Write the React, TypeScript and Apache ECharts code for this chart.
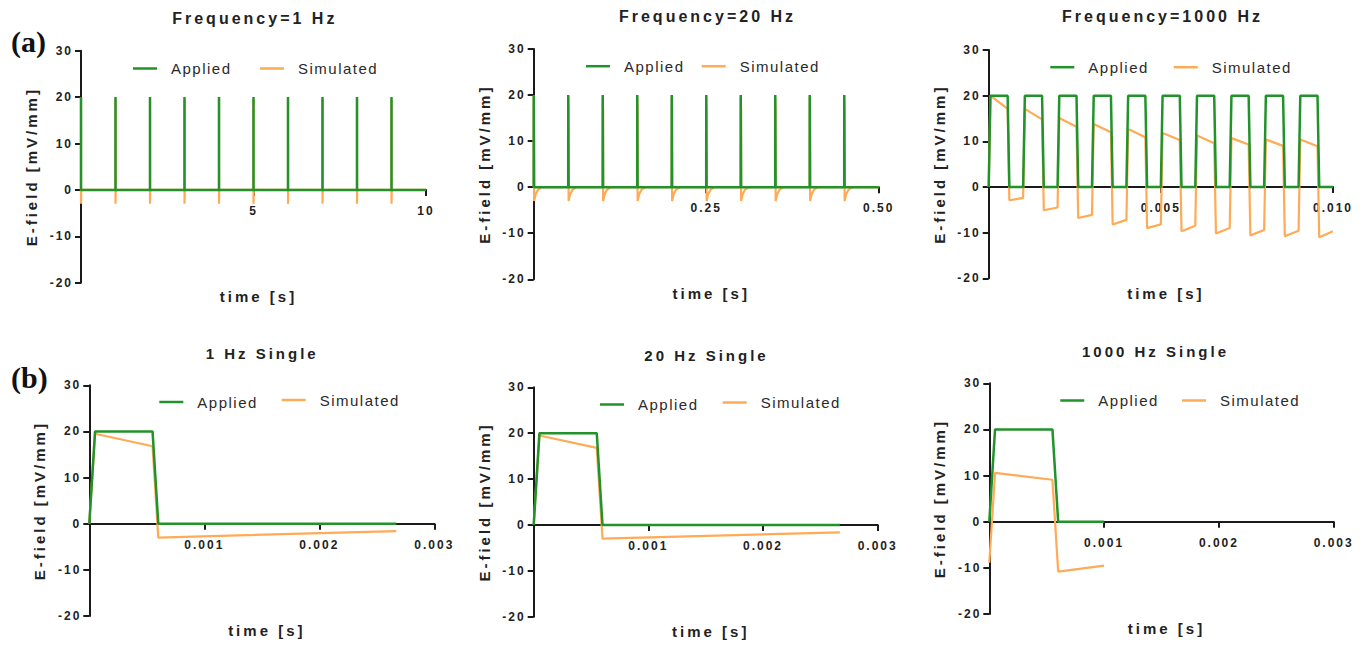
import React, { useEffect, useRef } from "react";
import * as echarts from "echarts";

// ---------------- data ----------------
const GREEN = "#22922a";
const ORANGE = "#ffaa55";

// pulse onset times [s]
const onsets1Hz = [0, 1, 2, 3, 4, 5, 6, 7, 8, 9];
const onsets20Hz = [0, 0.05, 0.1, 0.15, 0.2, 0.25, 0.3, 0.35, 0.4, 0.45];
const onsets1000Hz = [0, 0.001, 0.002, 0.003, 0.004, 0.005, 0.006, 0.007, 0.008, 0.009];

// one applied pulse: time offsets [s] and field [mV/mm]
const pulseT = [0, 0.00005, 0.00055, 0.0006];
const appliedV = [0, 20, 20, 0];
// simulated response to an isolated pulse (1 Hz / 20 Hz trains)
const simPulseV = [0, 19.5, 16.8, -3.0];
const simTailT = [0.0027, 0.006, 0.012];
const simTailV = [-1.6, -0.6, 0];

// 1000 Hz train: simulated values, pulse by pulse
const sim1000Start = [20, 17.1, 15.1, 13.8, 12.7, 11.8, 11.3, 10.7, 10.4, 10.4];
const sim1000End = [17.1, 14.8, 13.2, 12.0, 10.9, 10.3, 9.6, 9.3, 9.0, 8.9];
const sim1000TroughStart = [-2.9, -5.1, -6.8, -8.2, -9.0, -9.7, -10.2, -10.6, -10.8, -11.0];
const sim1000TroughEnd = [-2.4, -4.5, -6.1, -7.2, -8.2, -8.5, -9.0, -9.4, -9.6, -9.7];

// single pulses (row b)
const singleT = [0, 0.00005, 0.00055, 0.0006, 0.00267];
const singleApplied = [0, 20, 20, 0, 0];
const singleSim = [0, 19.5, 16.8, -3.0, -1.6];
const single1000T = [0, 0.00005, 0.00055, 0.0006, 0.001];
const single1000Applied = [0, 20, 20, 0, 0];
const single1000Sim = [-8.9, 10.6, 9.1, -10.8, -9.5];

// axes
const titles = ["Frequency=1 Hz", "Frequency=20 Hz", "Frequency=1000 Hz", "1 Hz Single", "20 Hz Single", "1000 Hz Single"];
const xMaxes = [10, 0.5, 0.01, 0.003, 0.003, 0.003];
const xIntervals = [5, 0.25, 0.005, 0.001, 0.001, 0.001];
const xDecimals = [0, 2, 3, 3, 3, 3];
const yMin = -20;
const yMax = 30;
const yInterval = 10;

// ---------------- series builders ----------------
type Pt = [number, number];
function trainApplied(onsets: number[], end: number): Pt[] {
  const pts: Pt[] = [];
  onsets.forEach((t0) => pulseT.forEach((dt, k) => pts.push([t0 + dt, appliedV[k]])));
  pts.push([end, 0]);
  return pts;
}
function trainSimulated(onsets: number[], end: number): Pt[] {
  const pts: Pt[] = [];
  onsets.forEach((t0) => {
    pulseT.forEach((dt, k) => pts.push([t0 + dt, simPulseV[k]]));
    simTailT.forEach((dt, k) => pts.push([t0 + dt, simTailV[k]]));
  });
  pts.push([end, 0]);
  return pts;
}
function train1000Simulated(): Pt[] {
  const pts: Pt[] = [[0, 0]];
  onsets1000Hz.forEach((t0, i) => {
    pts.push([t0 + 0.00005, sim1000Start[i]]);
    pts.push([t0 + 0.00055, sim1000End[i]]);
    pts.push([t0 + 0.0006, sim1000TroughStart[i]]);
    pts.push([t0 + 0.001, sim1000TroughEnd[i]]);
  });
  return pts;
}
const zip = (t: number[], v: number[]): Pt[] => t.map((x, i) => [x, v[i]]);

const appliedData: Pt[][] = [
  trainApplied(onsets1Hz, 10),
  trainApplied(onsets20Hz, 0.5),
  trainApplied(onsets1000Hz, 0.01),
  zip(singleT, singleApplied),
  zip(singleT, singleApplied),
  zip(single1000T, single1000Applied),
];
const simulatedData: Pt[][] = [
  trainSimulated(onsets1Hz, 10),
  trainSimulated(onsets20Hz, 0.5),
  train1000Simulated(),
  zip(singleT, singleSim),
  zip(singleT, singleSim),
  zip(single1000T, single1000Sim),
];

// ---------------- layout ----------------
const grids = [
  { left: 81, top: 50.7, width: 345, height: 232 },
  { left: 533.7, top: 49, width: 345, height: 230.3 },
  { left: 988.7, top: 50, width: 344.3, height: 228.3 },
  { left: 89.3, top: 385.3, width: 345, height: 230.7 },
  { left: 533.7, top: 387.3, width: 344, height: 229.4 },
  { left: 989.3, top: 383.3, width: 344.4, height: 230.7 },
];
const titlePos = [
  [254.8, 18.3], [707.5, 16], [1162.5, 16.7], [262.2, 353.3], [706.5, 355], [1155.5, 351.7],
];
const legendPos = [
  { ax: 133, ay: 68, sx: 260, sy: 68 },
  { ax: 586, ay: 65.7, sx: 701.7, sy: 65.7 },
  { ax: 1050.3, ay: 66.7, sx: 1173.7, sy: 66.7 },
  { ax: 159.3, ay: 401.5, sx: 281.7, sy: 399.5 },
  { ax: 600, ay: 404, sx: 722.7, sy: 402 },
  { ax: 1060.3, ay: 400, sx: 1182, sy: 400 },
];

const TFONT = "'Liberation Sans', Arial, zzT";
const LFONT = "'Liberation Sans', Arial, zzL";
const KFONT = "'Liberation Sans', Arial, zzK";
const INK = "#1a1a1a";

const css = `
body{margin:0}
text[style*="zzT"]{letter-spacing:3px}
text[style*="zzL"]{letter-spacing:1.5px}
text[style*="zzK"]{letter-spacing:2px}
`;

export default function App() {
  const ref = useRef<HTMLDivElement>(null);
  useEffect(() => {
    if (!ref.current) return;
    const chart = echarts.init(ref.current, undefined, { renderer: "svg" });
    const axisLineStyle = { color: INK, width: 2 };
    const legendText = { fontSize: 15, fontFamily: LFONT, color: "#2a2a2a", padding: [0, 0, 0, 9] };
    const option: any = {
      animation: false,
      backgroundColor: "#ffffff",
      grid: grids.map((g) => ({ ...g, containLabel: false })),
      xAxis: grids.map((g, i) => ({
        type: "value",
        gridIndex: i,
        position: "bottom",
        // x axis drawn through y = 0
        offset: -g.height * ((0 - yMin) / (yMax - yMin)),
        min: 0,
        max: xMaxes[i],
        interval: xIntervals[i],
        axisLine: { show: true, onZero: false, lineStyle: axisLineStyle },
        axisTick: { show: true, length: 6, lineStyle: axisLineStyle },
        splitLine: { show: false },
        axisLabel: {
          margin: 15,
          fontSize: 12,
          fontWeight: "bold",
          fontFamily: KFONT,
          color: "#222",
          showMinLabel: false,
          formatter: (v: number) => (v === 0 ? "" : v.toFixed(xDecimals[i])),
        },
        name: "time [s]",
        nameLocation: "middle",
        nameGap: 99,
        nameTextStyle: { fontSize: 15, fontWeight: "bold", fontFamily: TFONT, color: "#222", padding: [0, 0, 0, 10] },
      })),
      yAxis: grids.map((_, i) => ({
        type: "value",
        gridIndex: i,
        min: yMin,
        max: yMax,
        interval: yInterval,
        axisLine: { show: true, onZero: false, lineStyle: axisLineStyle },
        axisTick: { show: true, length: 6, lineStyle: axisLineStyle },
        splitLine: { show: false },
        axisLabel: { margin: 8, fontSize: 12, fontWeight: "bold", fontFamily: KFONT, color: "#222" },
        name: "E-field [mV/mm]",
        nameLocation: "middle",
        nameGap: 42,
        nameTextStyle: { fontSize: 15, fontWeight: "bold", fontFamily: TFONT, color: "#222" },
      })),
      legend: legendPos.flatMap((p) => [
        {
          data: ["Applied"],
          left: p.ax,
          top: p.ay - 7,
          padding: 0,
          icon: "rect",
          itemWidth: 24,
          itemHeight: 2.5,
          textStyle: legendText,
          selectedMode: false,
        },
        {
          data: ["Simulated"],
          left: p.sx,
          top: p.sy - 7,
          padding: 0,
          icon: "rect",
          itemWidth: 24,
          itemHeight: 2.5,
          textStyle: legendText,
          selectedMode: false,
        },
      ]),
      series: grids.flatMap((_, i) => [
        {
          name: "Simulated",
          type: "line",
          xAxisIndex: i,
          yAxisIndex: i,
          data: simulatedData[i],
          symbol: "none",
          z: 2,
          lineStyle: { color: ORANGE, width: 2.2 },
          itemStyle: { color: ORANGE },
        },
        {
          name: "Applied",
          type: "line",
          xAxisIndex: i,
          yAxisIndex: i,
          data: appliedData[i],
          symbol: "none",
          z: 3,
          lineStyle: { color: GREEN, width: 2.5 },
          itemStyle: { color: GREEN },
        },
      ]),
      graphic: [
        ...titles.map((t, i) => ({
          type: "text",
          x: titlePos[i][0],
          y: titlePos[i][1],
          style: {
            text: t,
            fontSize: i < 3 ? 16 : 15,
            fontWeight: "bold",
            fontFamily: TFONT,
            fill: "#222",
            align: "center",
            verticalAlign: "middle",
          },
        })),
        {
          type: "text",
          x: 11,
          y: 41,
          style: { text: "(a)", fontSize: 30, fontWeight: "bold", fontFamily: "'Liberation Serif', 'Times New Roman', serif", fill: "#111", align: "left", verticalAlign: "middle" },
        },
        {
          type: "text",
          x: 11,
          y: 377,
          style: { text: "(b)", fontSize: 30, fontWeight: "bold", fontFamily: "'Liberation Serif', 'Times New Roman', serif", fill: "#111", align: "left", verticalAlign: "middle" },
        },
      ],
    };
    chart.setOption(option);
    return () => chart.dispose();
  }, []);
  return (
    <>
      <style>{css}</style>
      <div ref={ref} style={{ width: 1368, height: 646 }} />
    </>
  );
}
